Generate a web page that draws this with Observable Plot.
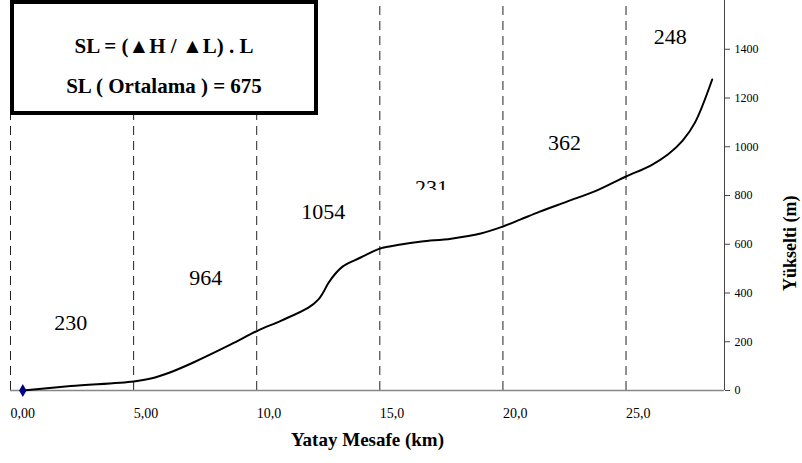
<!DOCTYPE html>
<html>
<head>
<meta charset="utf-8">
<script src="https://cdn.jsdelivr.net/npm/d3@7"></script>
<script src="https://cdn.jsdelivr.net/npm/@observablehq/plot@0.6"></script>
<style>
  html, body { margin: 0; padding: 0; background: #fff; }
  #wrap { position: relative; width: 802px; height: 463px; }
  #box { position: absolute; left: 10px; top: 0px; width: 300px; height: 107px; border: 4px solid #000; background: #fff; box-sizing: content-box;
         font-family: "Liberation Serif", "Times New Roman", Times, "DejaVu Serif", serif; font-weight: bold; font-size: 21px; color: #000; z-index: 2; text-align: center; }
  #box div { position: absolute; left: 0; right: 0; }
</style>
</head>
<body>
<div id="wrap"><div id="box"><div style="top:30px">SL = (▲H / ▲L) . L</div><div style="top:70px">SL ( Ortalama ) = 675</div></div></div>
<script>
// Profile: horizontal distance (km) and elevation (m)
const distanceKm = [0, 1.95, 4.5, 5.2, 6.0, 6.95, 8.45, 9.55, 10.5, 11.6, 12.0, 12.2, 12.4, 12.7, 13.0, 13.45, 13.9, 14.5, 15.35, 16.2, 17.4, 18.6, 19.5, 20.2, 21.0, 22.1, 23.3, 24.5, 25.5, 26.2, 26.8, 27.3, 28.0];
const elevationM = [0, 18, 37, 49, 75, 116, 189, 246, 287, 340, 373, 402, 439, 480, 509, 533, 554, 582, 599, 611, 623, 644, 673, 701, 734, 775, 820, 878, 923, 968, 1025, 1099, 1276];

// Segment SL values and their label anchors
const slValues = ["230", "964", "1054", "231", "362", "248"];
const slLabelKm = [1.95, 7.43, 12.2, 16.6, 22.0, 26.3];
const slLabelM = [279, 463, 734, 833, 1017, 1452];

// Axes
const xTicks = [0, 5, 10, 15, 20, 25];
const xTickLabels = ["0,00", "5,00", "10,0", "15,0", "20,0", "25,0"];
const yTicks = [0, 200, 400, 600, 800, 1000, 1200, 1400];
const xMin = -0.5, xMax = 28.5, yMax = 1600;

const profile = distanceKm.map((d, i) => ({d, h: elevationM[i]}));
const labels = slValues.map((t, i) => ({t, d: slLabelKm[i], h: slLabelM[i]}));
const font = "'Liberation Serif', 'Times New Roman', Times, 'DejaVu Serif', serif";

const chart = Plot.plot({
  width: 802, height: 463,
  marginLeft: 10, marginRight: 78, marginTop: 0, marginBottom: 73,
  style: {fontFamily: font, background: "#fff", color: "#000"},
  x: {type: "linear", domain: [xMin, xMax]},
  y: {type: "linear", domain: [0, yMax]},
  marks: [
    Plot.ruleX(xTicks, {x: d => d, dx: -12.3, y1: 0, y2: yMax, stroke: "#222", strokeWidth: 1, strokeDasharray: "9,6"}),
    Plot.ruleY([0], {stroke: "#888", strokeWidth: 1.5}),
    Plot.ruleX([xMax], {y1: 0, y2: yMax, stroke: "#444", strokeWidth: 1}),
    Plot.axisY({anchor: "right", ticks: yTicks, tickSize: 5, tickPadding: 5, fontSize: 12, fontFamily: font, label: null, stroke: "#444", tickFormat: d => String(d)}),
    Plot.axisX({anchor: "bottom", ticks: xTicks, tickSize: 0, tickPadding: 18, fontSize: 14, fontFamily: font, label: null, tickFormat: d => xTickLabels[xTicks.indexOf(d)]}),
    Plot.line(profile, {x: "d", y: "h", stroke: "#000", strokeWidth: 2, curve: "catmull-rom"}),
    Plot.dot(profile.slice(0, 1), {x: "d", y: "h", symbol: "diamond", r: 3, fill: "#000080", stroke: "#000080"}),
    Plot.text(labels, {x: "d", y: "h", text: "t", fontSize: 22, fontFamily: font, fill: "#000"}),
    Plot.rect(labels.filter(l => l.t === "231"), {x1: d => d.d - 1.2, x2: d => d.d + 1.2, y1: d => d.h - 60, y2: d => d.h - 12, fill: "#fff"}),
    Plot.text(["Yatay Mesafe (km)"], {frameAnchor: "bottom", dy: 55, text: d => d, fontSize: 19, fontFamily: font, fontWeight: "bold"}),
    Plot.text(["Yükselti (m)"], {frameAnchor: "right", dx: 66, text: d => d, fontSize: 18, fontFamily: font, fontWeight: "bold", rotate: -90})
  ]
});
document.getElementById("wrap").prepend(chart);
chart.style.position = "absolute";
chart.style.left = "0";
chart.style.top = "0";
</script>
</body>
</html>
